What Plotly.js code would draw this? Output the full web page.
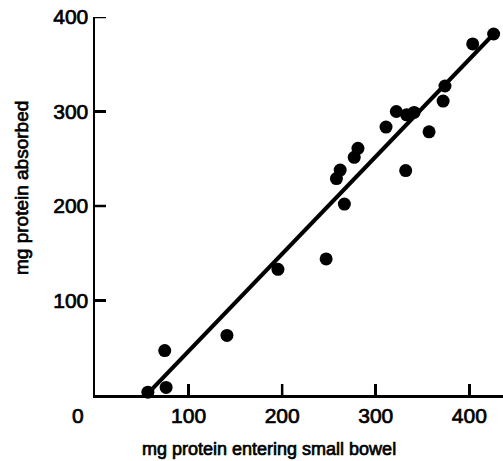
<!DOCTYPE html>
<html>
<head>
<meta charset="utf-8">
<script src="https://cdn.plot.ly/plotly-3.0.1.min.js"></script>
<style>html,body{margin:0;padding:0;background:#fff;}#chart{width:503px;height:461px;}
.main-svg text{stroke:#000;stroke-width:0.7px;}</style>
</head>
<body>
<div id="chart"></div>
<script>
// Data
const proteinEntering = [426, 403.6, 374, 372, 357, 341, 333, 322, 311, 332, 281, 277, 262, 258, 266.5, 247, 195.5, 141, 74.5, 76, 56.5];
const proteinAbsorbed = [382, 371.5, 327, 311, 278.5, 299, 296.5, 300, 283.5, 237.5, 261, 251.5, 238, 229, 202, 144, 133, 63, 47, 8, 3];
const fitLineX = [55, 426];
const fitLineY = [0, 382];
const xTickVals = [100, 200, 300, 400];
const yTickVals = [100, 200, 300, 400];
const xTitle = "mg protein entering small bowel";
const yTitle = "mg protein absorbed";
const originLabel = "0";

const fontFam = "Liberation Sans, Arial, Helvetica, sans-serif";
const W = 503, H = 461, M = {l: 95, r: 0, t: 17, b: 66};
const xRange = [0, 436], yRange = [0, 400];
const TICK_PX = 11, TICK_W = 2.5;

// tick length converted from pixels to data units of the perpendicular axis
const yPerPx = (yRange[1] - yRange[0]) / (H - M.t - M.b);
const xPerPx = (xRange[1] - xRange[0]) / (W - M.l - M.r);
const xTickLen = TICK_PX * yPerPx;
const yTickLen = TICK_PX * xPerPx;

const xTickX = [], xTickY = [];
xTickVals.forEach(function(v){ xTickX.push(v, v, null); xTickY.push(yRange[0], yRange[0] + xTickLen, null); });
const yTickX = [], yTickY = [];
yTickVals.forEach(function(v){ yTickX.push(xRange[0], xRange[0] + yTickLen, null); yTickY.push(v, v, null); });

const traces = [
  {x: xTickX, y: xTickY, mode: "lines", type: "scatter", line: {color: "#000", width: TICK_W}, hoverinfo: "skip", cliponaxis: false},
  {x: yTickX, y: yTickY, mode: "lines", type: "scatter", line: {color: "#000", width: TICK_W}, hoverinfo: "skip", cliponaxis: false},
  {x: fitLineX, y: fitLineY, mode: "lines", type: "scatter",
   line: {color: "#000", width: 4}, hoverinfo: "skip", cliponaxis: false},
  {x: proteinEntering, y: proteinAbsorbed, mode: "markers", type: "scatter",
   marker: {color: "#000", size: 13}, cliponaxis: false}
];

function axis(extra) {
  return Object.assign({
    showgrid: false, zeroline: false, showline: true,
    linecolor: "#000", linewidth: 2.5,
    ticks: "inside", ticklen: TICK_PX, tickwidth: TICK_W, tickcolor: "#000",
    tickfont: {family: fontFam, size: 21, color: "#000"},
    fixedrange: true
  }, extra);
}

const layout = {
  width: W, height: H,
  margin: M,
  paper_bgcolor: "#fff", plot_bgcolor: "#fff",
  showlegend: false,
  xaxis: axis({range: xRange, tickvals: xTickVals, ticklabelstandoff: 0}),
  yaxis: axis({range: yRange, tickvals: yTickVals}),
  annotations: [
    {text: xTitle, xref: "paper", yref: "paper", x: (269 - 95) / 408, y: 0, yshift: -54,
     xanchor: "center", yanchor: "middle", showarrow: false,
     font: {family: fontFam, size: 18, color: "#000"}},
    {text: yTitle, xref: "paper", yref: "paper", x: 0, y: (395 - 188) / 378, xshift: -73,
     xanchor: "center", yanchor: "middle", textangle: -90, showarrow: false,
     font: {family: fontFam, size: 19, color: "#000"}},
    {text: originLabel, xref: "x", yref: "y", x: 0, y: 0, xshift: -17, yshift: -20,
     xanchor: "center", yanchor: "middle", showarrow: false,
     font: {family: fontFam, size: 21, color: "#000"}}
  ]
};

Plotly.newPlot("chart", traces, layout, {displayModeBar: false, staticPlot: true});
</script>
</body>
</html>
